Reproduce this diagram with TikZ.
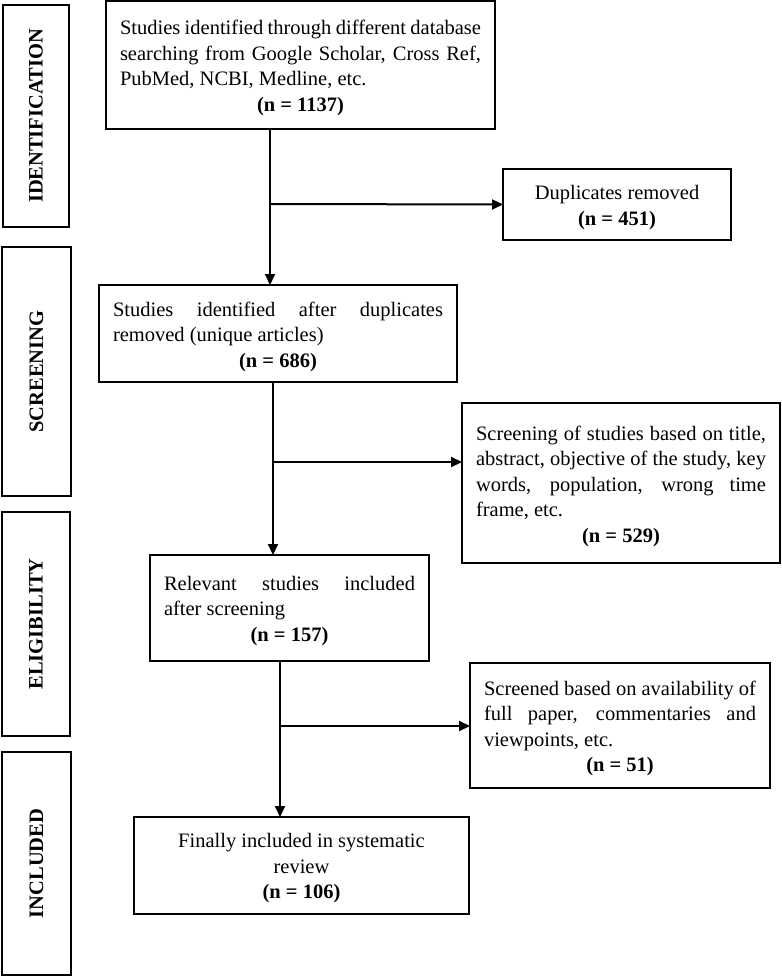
\documentclass[tikz,border=0pt]{standalone}
\usepackage{fontspec}
\usepackage{graphicx}
\setmainfont{Liberation Serif}
\usetikzlibrary{arrows.meta,calc}
\newcommand{\countline}[1]{\par\hbox to\hsize{\hfil\textbf{#1}\hfil}}
\tikzset{
  box/.style={draw=black, line width=1.5pt, rectangle, inner xsep=14pt, inner ysep=0pt,
    outer sep=0pt, font=\fontsize{20.5}{25.5}\selectfont,
    execute at end node={\par\vspace*{-6pt}}},
  jbox/.style={box, align=justify},
  cbox/.style={box, align=flush center},
  lab/.style={draw=black, line width=1.5pt, rectangle, inner sep=0pt, outer sep=0pt,
    font=\fontsize{20.5}{25.5}\selectfont\bfseries},
  arr/.style={line width=2pt, -{Triangle[width=10pt,length=11pt]}},
}
\begin{document}
\begin{tikzpicture}[x=1pt,y=-1pt]
\useasboundingbox (0,0) rectangle (781,976);
% stage labels
\node[lab, minimum width=66pt, minimum height=222pt] (lid) at (36,116) {\rotatebox{90}{IDENTIFICATION}};
\node[lab, minimum width=69pt, minimum height=249pt] (lsc) at (36.5,371.5) {\rotatebox{90}{SCREENING}};
\node[lab, minimum width=68pt, minimum height=224pt] (lel) at (36,624) {\rotatebox{90}{ELIGIBILITY}};
\node[lab, minimum width=69pt, minimum height=223pt] (lin) at (36.5,863.5) {\rotatebox{90}{INCLUDED}};
% boxes
\node[jbox, minimum width=389pt, minimum height=128pt, text width=361pt] (top) at (300.5,65)
  {\hyphenpenalty=10000 Studies identified through different database\linebreak searching from Google Scholar, Cross Ref,\linebreak PubMed, NCBI, Medline, etc.\countline{(n = 1137)}};
\node[cbox, minimum width=228pt, minimum height=71pt, text width=200pt] (dup) at (617,204.5)
  {Duplicates removed\\ \textbf{(n = 451)}};
\node[jbox, minimum width=358pt, minimum height=97pt, text width=330pt] (uniq) at (278,333.5)
  {\hyphenpenalty=10000 Studies identified after duplicates\linebreak removed (unique articles)\countline{(n = 686)}};
\node[jbox, minimum width=318pt, minimum height=160pt, text width=290pt] (scr) at (621,483)
  {\hyphenpenalty=10000 Screening of studies based on title,\linebreak abstract, objective of the study, key\linebreak words, population, wrong time\linebreak frame, etc.\countline{(n = 529)}};
\node[jbox, minimum width=279pt, minimum height=106pt, text width=251pt] (rel) at (289.5,608)
  {\hyphenpenalty=10000 Relevant studies included\linebreak after screening\countline{(n = 157)}};
\node[jbox, minimum width=300pt, minimum height=125pt, text width=272pt] (s51) at (620,725.5)
  {\hyphenpenalty=10000 Screened based on availability of\linebreak full paper, commentaries and\linebreak viewpoints, etc.\countline{(n = 51)}};
\node[cbox, minimum width=335pt, minimum height=97pt, text width=307pt] (fin) at (301.5,865.5)
  {Finally included in systematic\\ review\\ \textbf{(n = 106)}};
% branch points
\coordinate (b1) at (270,204);
\coordinate (b2) at (273,462);
\coordinate (b3) at (280,726);
% connectors
\draw[arr] (b1 |- top.south) -- (b1 |- uniq.north);
\draw[arr] (b1) -- (dup.west);
\draw[arr] (b2 |- uniq.south) -- (b2 |- rel.north);
\draw[arr] (b2) -- (b2 -| scr.west);
\draw[arr] (b3 |- rel.south) -- (b3 |- fin.north);
\draw[arr] (b3) -- (b3 -| s51.west);
\end{tikzpicture}
\end{document}
